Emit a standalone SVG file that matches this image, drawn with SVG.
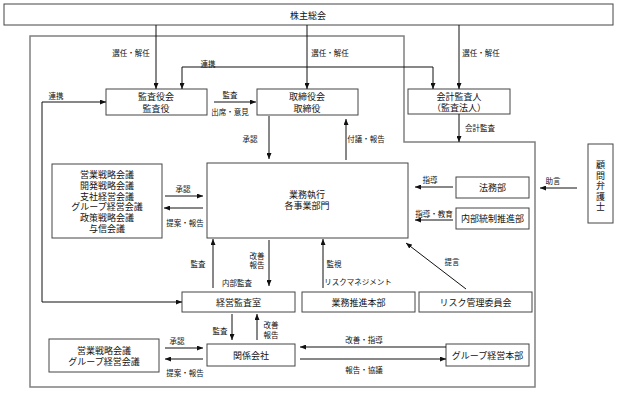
<svg xmlns="http://www.w3.org/2000/svg" width="617" height="393" viewBox="0 0 617 393">
<defs>
<style>
.bx{fill:#fff;stroke:#444;stroke-width:1}
.fr{fill:none;stroke:#808080;stroke-width:1.5}
.t{font-family:"Noto Sans CJK JP","Liberation Sans",sans-serif;font-size:9px;fill:#111;text-anchor:middle;dominant-baseline:central}
.l{font-family:"Noto Sans CJK JP","Liberation Sans",sans-serif;font-size:7.5px;fill:#111;text-anchor:middle;dominant-baseline:central}
.c path{fill:none;stroke:#111;stroke-width:1}
.a{marker-end:url(#ah)}
.b{marker-start:url(#ah);marker-end:url(#ah)}
</style>
<marker id="ah" markerWidth="6" markerHeight="5" refX="6" refY="2.5" orient="auto-start-reverse" markerUnits="userSpaceOnUse"><path d="M0,0 L6,2.5 L0,5 z" fill="#111"/></marker>
</defs>
<rect width="617" height="393" fill="#fff"/>
<path class="fr" d="M30,36 H404 V142 H535 V387 H30 Z"/>

<g id="n-kabunushi"><rect class="bx" x="4" y="4" width="609" height="21"/><text class="t" x="308" y="15">株主総会</text></g>
<g id="n-kansayakukai"><rect class="bx" x="106" y="89" width="101" height="26"/><text class="t" x="156" y="96.5">監査役会<tspan x="156" dy="11">監査役</tspan></text></g>
<g id="n-torishimariyakukai"><rect class="bx" x="257" y="89" width="101" height="26"/><text class="t" x="307" y="96.5">取締役会<tspan x="307" dy="11">取締役</tspan></text></g>
<g id="n-kaikeikansanin"><rect class="bx" x="408" y="89" width="102" height="25"/><text class="t" x="459" y="96.5">会計監査人<tspan x="459" dy="10.5">（監査法人）</tspan></text></g>
<g id="n-gyomushikko"><rect class="bx" x="207" y="163" width="201" height="75"/><text class="t" x="307" y="194">業務執行<tspan x="307" dy="11">各事業部門</tspan></text></g>
<g id="n-kaigi"><rect class="bx" x="52" y="164" width="110" height="74"/>
<text class="t" x="107" y="174">営業戦略会議<tspan x="107" dy="10.8">開発戦略会議</tspan><tspan x="107" dy="10.8">支社経営会議</tspan><tspan x="107" dy="10.8">グループ経営会議</tspan><tspan x="107" dy="10.8">政策戦略会議</tspan><tspan x="107" dy="10.8">与信会議</tspan></text></g>
<g id="n-homubu"><rect class="bx" x="456" y="177" width="73" height="21"/><text class="t" x="492.5" y="187.5">法務部</text></g>
<g id="n-naibutosei"><rect class="bx" x="456" y="208" width="73" height="21"/><text class="t" x="492.5" y="218.5">内部統制推進部</text></g>
<g id="n-komon"><rect class="bx" x="588" y="144" width="25" height="79"/>
<text class="t" x="600.5" y="164">顧<tspan x="600.5" dy="10.5">問</tspan><tspan x="600.5" dy="10.5">弁</tspan><tspan x="600.5" dy="10.5">護</tspan><tspan x="600.5" dy="10.5">士</tspan></text></g>
<g id="n-keieikansa"><rect class="bx" x="182" y="292" width="113" height="20"/><text class="t" x="238.5" y="302">経営監査室</text></g>
<g id="n-gyomusuishin"><rect class="bx" x="302" y="292" width="113" height="20"/><text class="t" x="358.5" y="302">業務推進本部</text></g>
<g id="n-risk"><rect class="bx" x="419" y="292" width="113" height="20"/><text class="t" x="475.5" y="302">リスク管理委員会</text></g>
<g id="n-kankei"><rect class="bx" x="207" y="344" width="88" height="22"/><text class="t" x="251" y="355">関係会社</text></g>
<g id="n-kaigi2"><rect class="bx" x="49" y="339" width="110" height="33"/><text class="t" x="104" y="350">営業戦略会議<tspan x="104" dy="11">グループ経営会議</tspan></text></g>
<g id="n-group"><rect class="bx" x="446" y="344" width="83" height="22"/><text class="t" x="487.5" y="355">グループ経営本部</text></g>

<g id="connectors" class="c">
<path class="a" d="M156,25 V89"/>
<path class="a" d="M307,25 V89"/>
<path class="a" d="M459,25 V89"/>
<path class="b" d="M182,89 V67 H433 V89"/>
<path class="b" d="M106,102 H42 V302 H182"/>
<path class="a" d="M214,102 H256"/>
<path class="a" d="M269,116 V159"/>
<path class="a" d="M346,160 V119"/>
<path class="a" d="M459,114 V142"/>
<path class="a" d="M165,196 H203"/>
<path class="a" d="M203,208 H164"/>
<path class="a" d="M453,187 H415"/>
<path class="a" d="M453,220 H415"/>
<path class="a" d="M577,188 H540"/>
<path class="a" d="M213,288 V239"/>
<path class="a" d="M269,240 V286"/>
<path class="a" d="M323,288 V239"/>
<path class="a" d="M466,289 L406,243"/>
<path class="a" d="M232,314 V340"/>
<path class="a" d="M257,340 V314"/>
<path class="a" d="M165,348 H203"/>
<path class="a" d="M203,359 H165"/>
<path class="a" d="M446,347 H300"/>
<path class="a" d="M300,359 H446"/>
</g>

<g id="labels">
<text class="l" x="131" y="52">選任・解任</text>
<text class="l" x="330" y="52">選任・解任</text>
<text class="l" x="481" y="52">選任・解任</text>
<text class="l" x="208" y="63">連携</text>
<text class="l" x="56" y="95">連携</text>
<text class="l" x="230" y="94">監査</text>
<text class="l" x="230" y="111">出席・意見</text>
<text class="l" x="250" y="138">承認</text>
<text class="l" x="366" y="138">付議・報告</text>
<text class="l" x="480" y="127">会計監査</text>
<text class="l" x="183" y="188">承認</text>
<text class="l" x="185" y="222">提案・報告</text>
<text class="l" x="430" y="179">指導</text>
<text class="l" x="434" y="213">指導・教育</text>
<text class="l" x="553" y="180">助言</text>
<text class="l" x="198" y="263">監査</text>
<text class="l" x="257" y="255">改善<tspan x="257" dy="9">報告</tspan></text>
<text class="l" x="237" y="282">内部監査</text>
<text class="l" x="334" y="263">監視</text>
<text class="l" x="358" y="281">リスクマネジメント</text>
<text class="l" x="452" y="261">提言</text>
<text class="l" x="220" y="330">監査</text>
<text class="l" x="271" y="324">改善<tspan x="271" dy="10">報告</tspan></text>
<text class="l" x="177" y="340">承認</text>
<text class="l" x="185" y="372">提案・報告</text>
<text class="l" x="364" y="339">改善・指導</text>
<text class="l" x="364" y="369">報告・協議</text>
</g>
</svg>
